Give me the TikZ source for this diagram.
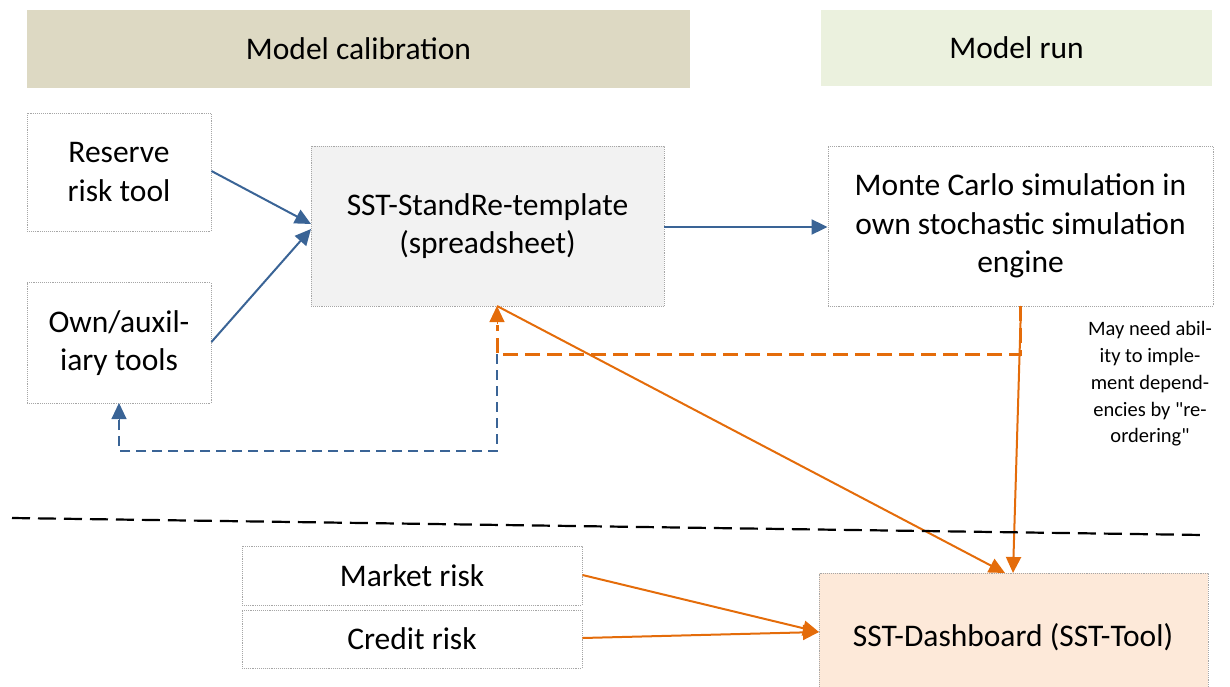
\documentclass[tikz,border=0pt]{standalone}
\usepackage{fontspec}
\setmainfont{Carlito}
\newfontfamily\notefont{Carlito}
\usetikzlibrary{arrows.meta}
\definecolor{tanfill}{HTML}{DDD9C3}
\definecolor{greenfill}{HTML}{EBF1DE}
\definecolor{greyfill}{HTML}{F2F2F2}
\definecolor{peachfill}{HTML}{FDE9D9}
\definecolor{bluec}{HTML}{3A6496}
\definecolor{orangec}{HTML}{E46C0A}
\tikzset{
  box/.style={draw=gray!70, densely dotted, line width=0.9pt, align=center, inner sep=0pt,
    font=\fontsize{31.5}{38.5}\selectfont},
  header/.style={align=center, inner sep=0pt, font=\fontsize{31.5}{38.5}\selectfont},
  tip/.style={-{Triangle[length=16pt,width=15pt]}},
  bluearrow/.style={tip, draw=bluec, line width=2pt},
  orangearrow/.style={tip, draw=orangec, line width=2pt},
  bluedash/.style={draw=bluec, line width=2.3pt, dash pattern=on 10pt off 6pt},
  orangedash/.style={draw=orangec, line width=3pt, dash pattern=on 15pt off 7pt},
}
\begin{document}
\begin{tikzpicture}[x=1pt,y=-1pt]
\useasboundingbox (0,0) rectangle (1230,687);
% headers
\node[header, fill=tanfill, minimum width=663pt, minimum height=78pt] (hcal) at (358.5,49) {Model calibration};
\node[header, fill=greenfill, minimum width=391pt, minimum height=76pt] (hrun) at (1016.5,48) {Model run};
% boxes
\node[box, minimum width=184pt, minimum height=118pt] (reserve) at (119,172) {Reserve\\risk tool};
\node[box, minimum width=184pt, minimum height=121pt] (own) at (119,343) {Own/auxil-\\iary tools};
\node[box, fill=greyfill, minimum width=353pt, minimum height=160pt] (sst) at (487.5,226) {SST-StandRe-template\\(spreadsheet)};
\node[box, minimum width=385pt, minimum height=160pt] (mc) at (1020.5,226) {Monte Carlo simulation in\\own stochastic simulation\\engine};
\node[box, minimum width=340pt, minimum height=59pt] (market) at (412,575.5) {Market risk};
\node[box, minimum width=340pt, minimum height=58pt] (credit) at (412,639) {Credit risk};
\node[box, fill=peachfill, minimum width=389pt, minimum height=124pt, text depth=0pt] (dash) at (1013.5,635) {};
\node[header] (dashtxt) at (1013,637) {SST-Dashboard (SST-Tool)};
% annotation
\node[align=center, inner sep=0pt, font=\notefont\fontsize{20.5}{26.7}\selectfont] (note) at (1150,384) {May need abil-\\ity to imple-\\ment depend-\\encies by "re-\\ordering"};
% coordinates
\coordinate (sstb) at (497,306);
\coordinate (mcb) at (1020,306);
\coordinate (c1) at (1020,354);
\coordinate (c2) at (497,354);
\coordinate (c3) at (497,451);
\coordinate (c4) at (119,451);
\coordinate (ownb) at (119,403);
\coordinate (dtop1) at (1005,573);
\coordinate (dtop2) at (1013,573);
\coordinate (dl) at (819,632);
\coordinate (l1) at (12,518);
\coordinate (l2) at (1203,535);
% blue arrows
\draw[bluearrow] (reserve.east |- 0,171) -- (311,224);
\draw[bluearrow] (own.east |- 0,342) -- (311,229);
\draw[bluearrow] (sst.east |- 0,227) -- (mc.west |- 0,227);
% dashed feedback
\draw[bluedash] (c2) -- (c3) -- (c4) -- (ownb |- 0,420);
\draw[tip, draw=bluec, fill=bluec, line width=1pt] (ownb |- 0,421) -- (ownb);
\draw[orangedash] (mcb) -- (c1) -- (c2) -- (497,325);
\draw[tip, draw=orangec, fill=orangec, line width=1pt] (497,324) -- (sstb);
% orange solid arrows
\draw[orangearrow] (sstb) -- (dtop1);
\draw[orangearrow] (1021,306) -- (dtop2);
\draw[orangearrow] (market.east |- 0,575) -- (dl);
\draw[orangearrow] (credit.east |- 0,638) -- (dl);
% separator
\draw[black, line width=2.2pt, dash pattern=on 18pt off 8pt] (l1) -- (l2);
\end{tikzpicture}
\end{document}
